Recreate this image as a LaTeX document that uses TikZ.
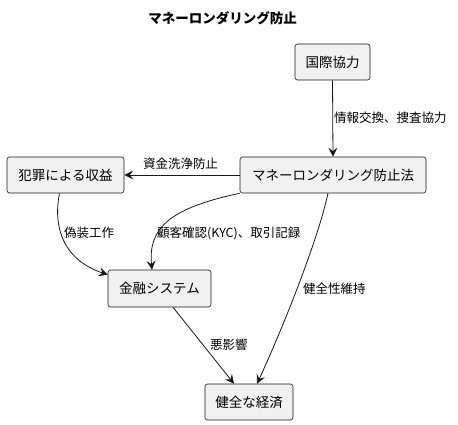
\documentclass[tikz,border=0pt]{standalone}
\usepackage{fontspec}
\setmainfont{Noto Sans CJK JP}
\usetikzlibrary{arrows.meta}
\definecolor{boxfill}{HTML}{F1F1F1}
\definecolor{boxline}{HTML}{181818}
\begin{document}
\begin{tikzpicture}[x=1pt,y=-1pt,
  box/.style={draw=boxline,fill=boxfill,rounded corners=2.5pt,line width=0.6pt,inner sep=0pt,font=\fontsize{13.5}{16}\selectfont,align=center},
  lbl/.style={inner sep=0pt,anchor=west,font=\fontsize{12.5}{15}\selectfont},
  conn/.style={draw=boxline,line width=0.8pt,-{Stealth[length=9pt,width=9pt,inset=3.5pt]}}]
\useasboundingbox (0,0) rectangle (458,425);
\node[font=\bfseries\fontsize{13.5}{16}\selectfont,inner sep=0pt] (title) at (222.5,18) {マネーロンダリング防止};
\node[box,minimum width=75pt,minimum height=36pt] (coop) at (332.5,62) {国際協力};
\node[box,minimum width=186pt,minimum height=36pt] (law) at (333,175) {マネーロンダリング防止法};
\node[box,minimum width=117pt,minimum height=36pt] (crime) at (65.5,175) {犯罪による収益};
\node[box,minimum width=103pt,minimum height=37pt] (fin) at (159.5,288.5) {金融システム};
\node[box,minimum width=88pt,minimum height=36pt] (eco) at (249,402) {健全な経済};
\draw[conn] (coop.south) -- (law.north);
\draw[conn] (law.west) -- (crime.east);
\draw[conn] (law.south west) .. controls (170,208) and (148,228) .. ([xshift=-7.5pt]fin.north);
\draw[conn] ([xshift=-6pt]crime.south) .. controls (54,220) and (58,258) .. ([yshift=-5pt]fin.north west);
\draw[conn] ([xshift=-5pt]law.south) .. controls (318,240) and (282,330) .. ([xshift=8pt]eco.north);
\draw[conn] ([xshift=13.5pt]fin.south) -- ([xshift=-15pt]eco.north);
\node[lbl] (l1) at (334,118) {情報交換、捜査協力};
\node[lbl] (l2) at (143,163.5) {資金洗浄防止};
\node[lbl] (l3) at (157,233) {顧客確認(KYC)、取引記録};
\node[lbl] (l4) at (64,233) {偽装工作};
\node[lbl] (l5) at (303,289) {健全性維持};
\node[lbl] (l6) at (210,345) {悪影響};
\end{tikzpicture}
\end{document}
